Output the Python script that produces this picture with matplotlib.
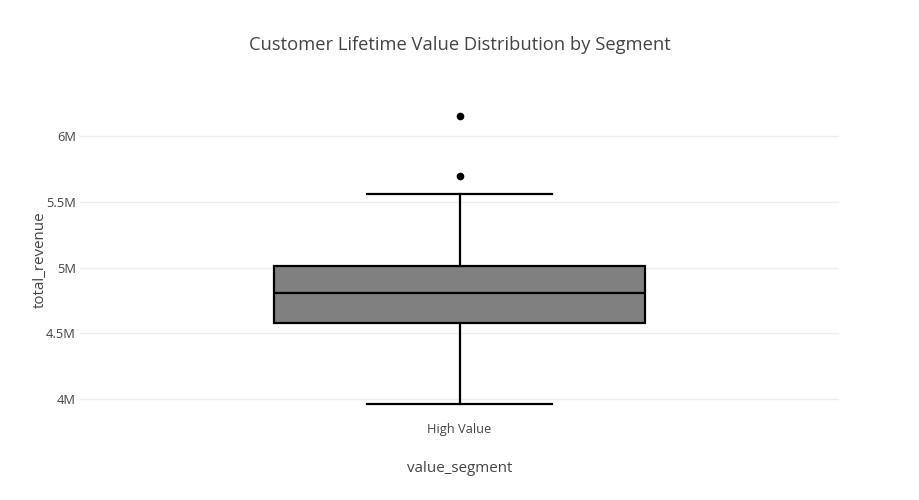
import matplotlib
matplotlib.use("Agg")
import matplotlib.pyplot as plt

plt.rcParams['font.family'] = ['Open Sans', 'DejaVu Sans']

# Data (values in millions)
categories = ["High Value"]
lower_whisker = [3.967]
q1 = [4.580]
median = [4.808]
q3 = [5.015]
upper_whisker = [5.557]
outliers = [[5.696, 6.154]]
ytick_vals = [4.0, 4.5, 5.0, 5.5, 6.0]
ytick_labels = ["4M", "4.5M", "5M", "5.5M", "6M"]

W, H = 919, 500
fig = plt.figure(figsize=(W / 100, H / 100), dpi=100)
ax = fig.add_axes([80 / W, 80 / H, 759 / W, 320 / H])

stats = []
for i, c in enumerate(categories):
    stats.append(dict(label=c, whislo=lower_whisker[i], q1=q1[i], med=median[i],
                      q3=q3[i], whishi=upper_whisker[i], fliers=outliers[i]))

ax.bxp(stats, positions=list(range(len(categories))), widths=0.49, capwidths=0.245,
       patch_artist=True, showfliers=True,
       boxprops=dict(facecolor="#808080", edgecolor="black", linewidth=1.6),
       medianprops=dict(color="black", linewidth=1.6),
       whiskerprops=dict(color="black", linewidth=1.6),
       capprops=dict(color="black", linewidth=1.6),
       flierprops=dict(marker="o", markerfacecolor="black", markeredgecolor="black",
                       markersize=4.5, linestyle="none"),
       zorder=3)

ax.set_xlim(-0.5, len(categories) - 0.5)
ax.set_ylim(3.843, 6.273)
ax.set_yticks(ytick_vals)
ax.set_yticklabels(ytick_labels)
ax.set_xticks(list(range(len(categories))))
ax.set_xticklabels(categories)

for s in ax.spines.values():
    s.set_visible(False)
ax.tick_params(axis="both", length=0, labelsize=9.3, colors="#444444")
ax.tick_params(axis="y", pad=3)
ax.tick_params(axis="x", pad=2.5)
ax.grid(axis="y", color="#eeeeee", linewidth=1, zorder=0)
ax.set_axisbelow(True)

ax.set_xlabel("value_segment", fontsize=10.9, color="#444444", labelpad=18)
ax.set_ylabel("total_revenue", fontsize=10.9, color="#444444", labelpad=-1.5)

fig.text(460 / W, 1 - 45 / H, "Customer Lifetime Value Distribution by Segment",
         ha="center", va="center", fontsize=13.2, color="#444444")

fig.savefig("out.png", dpi=100, facecolor="white")
